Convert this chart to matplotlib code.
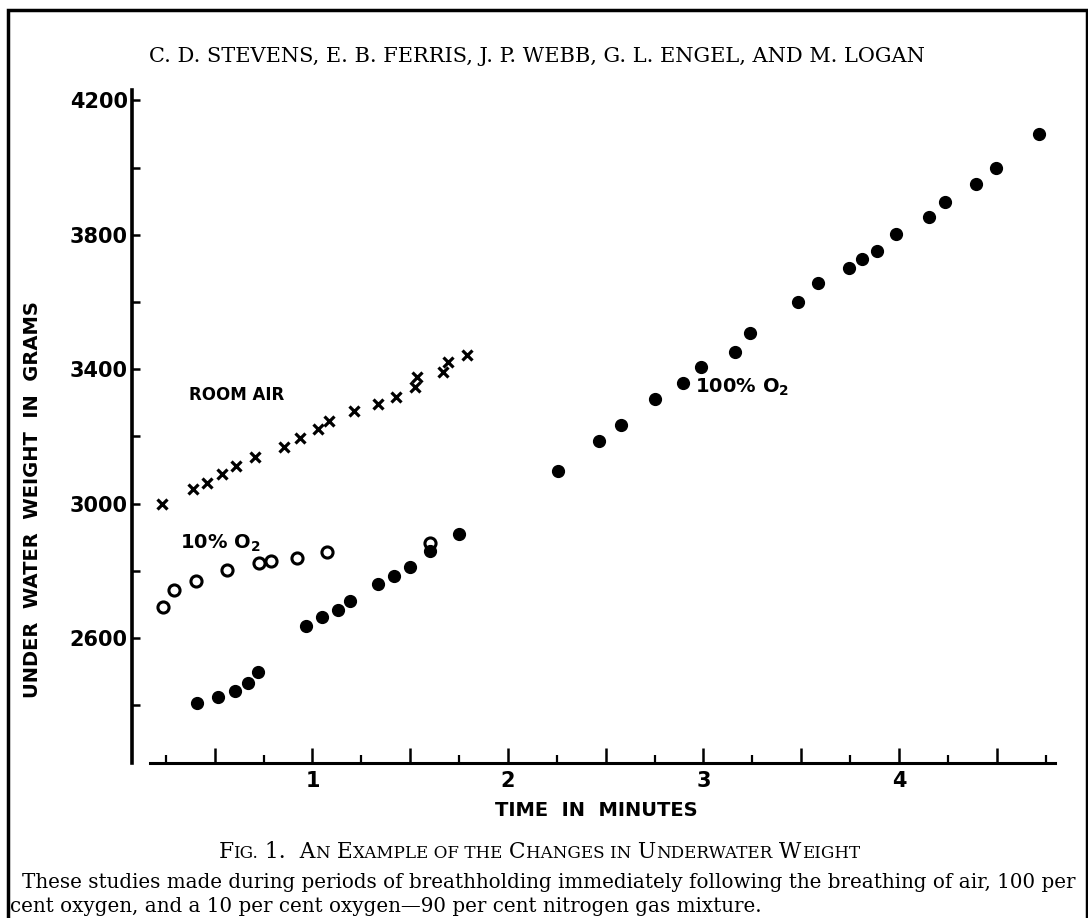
import numpy as np
import matplotlib.pyplot as plt
from matplotlib.ticker import FuncFormatter
from matplotlib.offsetbox import TextArea, HPacker, AnnotationBbox
from matplotlib.patches import Rectangle

# room air (x marks)
air_t = [0.23, 0.39, 0.46, 0.535, 0.61, 0.705, 0.855, 0.935, 1.03, 1.085,
         1.215, 1.335, 1.425, 1.525, 1.535, 1.67, 1.695, 1.79]
air_w = [3000, 3043, 3062, 3088, 3112, 3140, 3168, 3194, 3221, 3247,
         3277, 3296, 3318, 3346, 3376, 3393, 3422, 3442]

# 10% O2 (open circles)
o10_t = [0.235, 0.29, 0.405, 0.565, 0.725, 0.79, 0.92, 1.075, 1.60]
o10_w = [2691, 2743, 2770, 2802, 2824, 2830, 2839, 2855, 2884]

# filled dots, lower run
low_t = [0.41, 0.515, 0.605, 0.67, 0.72, 0.965, 1.05, 1.13, 1.19, 1.335,
         1.415, 1.50, 1.60, 1.75]
low_w = [2406, 2423, 2443, 2467, 2500, 2637, 2663, 2683, 2711, 2760,
         2785, 2812, 2860, 2909]

# 100% O2 (filled dots)
o100_t = [2.255, 2.465, 2.58, 2.75, 2.895, 2.985, 3.16, 3.24, 3.485, 3.585,
          3.745, 3.81, 3.89, 3.985, 4.155, 4.235, 4.395, 4.495, 4.715]
o100_w = [3097, 3186, 3234, 3310, 3360, 3407, 3452, 3507, 3601, 3656,
          3702, 3728, 3752, 3802, 3854, 3897, 3950, 4000, 4099]

y_major = [2600, 3000, 3400, 3800, 4200]
y_minor = [2400, 2800, 3200, 3600, 4000]

W, H = 1088, 918
fig = plt.figure(figsize=(W / 100, H / 100), dpi=100)
fig.patch.set_facecolor('white')

ax = fig.add_axes([132 / W, 1 - 763 / H, (1056 - 132) / W, (763 - 90) / H])
ax.set_xlim(0.077, 4.803)
ax.set_ylim(2228, 4231)

ax.plot(air_t, air_w, 'x', color='black', ms=7, mew=2.3)
ax.plot(o10_t, o10_w, 'o', mfc='white', mec='black', ms=8, mew=2.2)
ax.plot(low_t, low_w, 'o', color='black', ms=8.5)
ax.plot(o100_t, o100_w, 'o', color='black', ms=8.5)

for s in ['top', 'right']:
    ax.spines[s].set_visible(False)
ax.spines['left'].set_linewidth(2.6)
ax.spines['bottom'].set_linewidth(2.2)
ax.spines['bottom'].set_bounds(0.17, 4.80)

ax.set_yticks(y_major)
ax.set_yticks(y_minor, minor=True)
ax.set_xticks(np.arange(0.5, 4.6, 0.5))
ax.set_xticks(np.arange(0.25, 4.8, 0.5), minor=True)
ax.xaxis.set_major_formatter(FuncFormatter(lambda v, p: str(int(v)) if float(v).is_integer() else ''))

ax.tick_params(axis='y', which='both', direction='in', length=6, width=1.8, pad=3,
               labelsize=15)
ax.tick_params(axis='x', which='major', direction='in', length=11, width=1.8, pad=6,
               labelsize=15)
ax.tick_params(axis='x', which='minor', direction='in', length=6, width=1.6)
for lab in ax.get_xticklabels() + ax.get_yticklabels():
    lab.set_fontweight('bold')

ax.text(0.614, 3323, 'ROOM AIR', fontsize=12, fontweight='bold', ha='center', va='center')
ax.text(0.527, 2883, r'10% O$_\mathbf{2}$', fontsize=14, fontweight='bold', ha='center', va='center')
ax.text(3.197, 3347, r'100% O$_\mathbf{2}$', fontsize=14, fontweight='bold', ha='center', va='center')

fig.text(33 / W, 1 - 500 / H, 'UNDER  WATER  WEIGHT  IN  GRAMS', rotation=90,
         fontsize=14, fontweight='bold', ha='center', va='center')
fig.text(596 / W, 1 - 810 / H, 'TIME  IN  MINUTES', fontsize=14, fontweight='bold',
         ha='center', va='center')

serif = 'DejaVu Serif'
fig.text(537 / W, 1 - 57 / H, 'C. D. STEVENS, E. B. FERRIS, J. P. WEBB, G. L. ENGEL, AND M. LOGAN',
         fontsize=15, family=serif, ha='center', va='center')

# small caps caption
big, small = 15.7, 12.1
segs = [('F', big), ('IG.', small), (' 1.', big), ('  A', big), ('N', small), (' E', big),
        ('XAMPLE OF THE', small), (' C', big), ('HANGES IN', small), (' U', big),
        ('NDERWATER', small), (' W', big), ('EIGHT', small)]
boxes = [TextArea(s, textprops=dict(fontsize=fs, family=serif)) for s, fs in segs]
pack = HPacker(children=boxes, align='baseline', pad=0, sep=0)
ab = AnnotationBbox(pack, (539 / W, 1 - 852 / H), xycoords='figure fraction',
                    frameon=False, box_alignment=(0.5, 0.5))
fig.add_artist(ab)

fig.text(22 / W, 1 - 882 / H,
         'These studies made during periods of breathholding immediately following the breathing of air, 100 per',
         fontsize=14.3, family=serif, ha='left', va='center')
fig.text(10 / W, 1 - 906 / H,
         'cent oxygen, and a 10 per cent oxygen\u201490 per cent nitrogen gas mixture.',
         fontsize=14.3, family=serif, ha='left', va='center')

fig.add_artist(Rectangle((8 / W, -0.05), (W - 9) / W, 1 - 10 / H + 0.05,
                         transform=fig.transFigure, fill=False, lw=2.5, ec='black'))

fig.savefig('out.png', dpi=100)
